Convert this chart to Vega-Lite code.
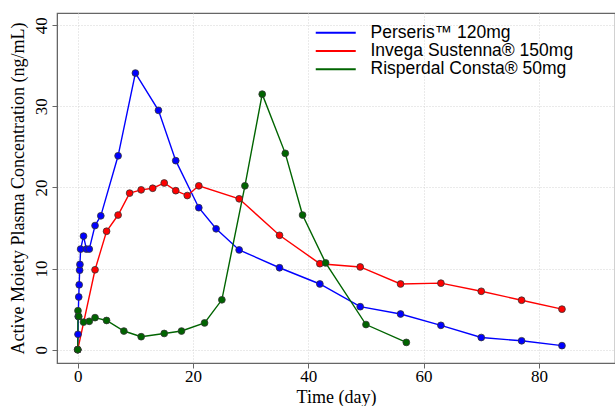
{
  "$schema": "https://vega.github.io/schema/vega-lite/v6.json",
  "width": 558,
  "height": 350,
  "autosize": {"type": "none"},
  "padding": {"left": 57, "top": 13, "right": 0, "bottom": 43},
  "background": "white",
  "config": {
    "view": {"stroke": "#666", "strokeWidth": 1.2},
    "font": "Liberation Serif"
  },
  "data": {
    "values": [
      {"series": "Perseris™ 120mg", "day": 0, "conc": 0},
      {"series": "Perseris™ 120mg", "day": 0.04, "conc": 1.9},
      {"series": "Perseris™ 120mg", "day": 0.08, "conc": 4.1},
      {"series": "Perseris™ 120mg", "day": 0.17, "conc": 6.5},
      {"series": "Perseris™ 120mg", "day": 0.25, "conc": 8.0},
      {"series": "Perseris™ 120mg", "day": 0.33, "conc": 9.8},
      {"series": "Perseris™ 120mg", "day": 0.38, "conc": 10.5},
      {"series": "Perseris™ 120mg", "day": 0.5, "conc": 12.4},
      {"series": "Perseris™ 120mg", "day": 1, "conc": 14.0},
      {"series": "Perseris™ 120mg", "day": 1.5, "conc": 12.4},
      {"series": "Perseris™ 120mg", "day": 2, "conc": 12.4},
      {"series": "Perseris™ 120mg", "day": 3, "conc": 15.3},
      {"series": "Perseris™ 120mg", "day": 4, "conc": 16.5},
      {"series": "Perseris™ 120mg", "day": 7, "conc": 23.9},
      {"series": "Perseris™ 120mg", "day": 10, "conc": 34.1},
      {"series": "Perseris™ 120mg", "day": 14, "conc": 29.5},
      {"series": "Perseris™ 120mg", "day": 17, "conc": 23.3},
      {"series": "Perseris™ 120mg", "day": 21, "conc": 17.5},
      {"series": "Perseris™ 120mg", "day": 24, "conc": 14.9},
      {"series": "Perseris™ 120mg", "day": 28, "conc": 12.3},
      {"series": "Perseris™ 120mg", "day": 35, "conc": 10.1},
      {"series": "Perseris™ 120mg", "day": 42, "conc": 8.1},
      {"series": "Perseris™ 120mg", "day": 49, "conc": 5.3},
      {"series": "Perseris™ 120mg", "day": 56, "conc": 4.4},
      {"series": "Perseris™ 120mg", "day": 63, "conc": 3.0},
      {"series": "Perseris™ 120mg", "day": 70, "conc": 1.5},
      {"series": "Perseris™ 120mg", "day": 77, "conc": 1.1},
      {"series": "Perseris™ 120mg", "day": 84, "conc": 0.5},
      {"series": "Invega Sustenna® 150mg", "day": 0, "conc": 0},
      {"series": "Invega Sustenna® 150mg", "day": 3, "conc": 9.85},
      {"series": "Invega Sustenna® 150mg", "day": 5, "conc": 14.6},
      {"series": "Invega Sustenna® 150mg", "day": 7, "conc": 16.6},
      {"series": "Invega Sustenna® 150mg", "day": 9, "conc": 19.3},
      {"series": "Invega Sustenna® 150mg", "day": 11, "conc": 19.7},
      {"series": "Invega Sustenna® 150mg", "day": 13, "conc": 19.9},
      {"series": "Invega Sustenna® 150mg", "day": 15, "conc": 20.55},
      {"series": "Invega Sustenna® 150mg", "day": 17, "conc": 19.6},
      {"series": "Invega Sustenna® 150mg", "day": 19, "conc": 19.0},
      {"series": "Invega Sustenna® 150mg", "day": 21, "conc": 20.2},
      {"series": "Invega Sustenna® 150mg", "day": 28, "conc": 18.6},
      {"series": "Invega Sustenna® 150mg", "day": 35, "conc": 14.1},
      {"series": "Invega Sustenna® 150mg", "day": 42, "conc": 10.6},
      {"series": "Invega Sustenna® 150mg", "day": 49, "conc": 10.2},
      {"series": "Invega Sustenna® 150mg", "day": 56, "conc": 8.1},
      {"series": "Invega Sustenna® 150mg", "day": 63, "conc": 8.2},
      {"series": "Invega Sustenna® 150mg", "day": 70, "conc": 7.2},
      {"series": "Invega Sustenna® 150mg", "day": 77, "conc": 6.1},
      {"series": "Invega Sustenna® 150mg", "day": 84, "conc": 5.0},
      {"series": "Risperdal Consta® 50mg", "day": 0, "conc": 0},
      {"series": "Risperdal Consta® 50mg", "day": 0.04, "conc": 4.8},
      {"series": "Risperdal Consta® 50mg", "day": 0.17, "conc": 4.1},
      {"series": "Risperdal Consta® 50mg", "day": 1, "conc": 3.4},
      {"series": "Risperdal Consta® 50mg", "day": 2, "conc": 3.5},
      {"series": "Risperdal Consta® 50mg", "day": 3, "conc": 3.95},
      {"series": "Risperdal Consta® 50mg", "day": 5, "conc": 3.6},
      {"series": "Risperdal Consta® 50mg", "day": 8, "conc": 2.3},
      {"series": "Risperdal Consta® 50mg", "day": 11, "conc": 1.6},
      {"series": "Risperdal Consta® 50mg", "day": 15, "conc": 2.0},
      {"series": "Risperdal Consta® 50mg", "day": 18, "conc": 2.3},
      {"series": "Risperdal Consta® 50mg", "day": 22, "conc": 3.3},
      {"series": "Risperdal Consta® 50mg", "day": 25, "conc": 6.15},
      {"series": "Risperdal Consta® 50mg", "day": 29, "conc": 20.2},
      {"series": "Risperdal Consta® 50mg", "day": 32, "conc": 31.5},
      {"series": "Risperdal Consta® 50mg", "day": 36, "conc": 24.2},
      {"series": "Risperdal Consta® 50mg", "day": 39, "conc": 16.6},
      {"series": "Risperdal Consta® 50mg", "day": 43, "conc": 10.7},
      {"series": "Risperdal Consta® 50mg", "day": 50, "conc": 3.1},
      {"series": "Risperdal Consta® 50mg", "day": 57, "conc": 0.9}
    ]
  },
  "encoding": {
    "x": {
      "field": "day",
      "type": "quantitative",
      "scale": {"domain": [-3.6, 93.2], "nice": false, "zero": false},
      "axis": {
        "values": [0, 20, 40, 60, 80],
        "title": "Time (day)",
        "titleFont": "Liberation Serif",
        "titleFontSize": 18,
        "titleFontWeight": "normal",
        "titleColor": "black",
        "titlePadding": 4,
        "labelFont": "Liberation Serif",
        "labelFontSize": 17,
        "labelColor": "black",
        "labelPadding": 0,
        "domainColor": "#666",
        "tickColor": "#666",
        "tickSize": 5,
        "grid": true,
        "gridColor": "#d4d4d4",
        "gridDash": [1, 2]
      }
    },
    "y": {
      "field": "conc",
      "type": "quantitative",
      "scale": {"domain": [-1.64, 41.5], "nice": false, "zero": false},
      "axis": {
        "values": [0, 10, 20, 30, 40],
        "title": "Active Moiety Plasma Concentration (ng/mL)",
        "titleFont": "Liberation Serif",
        "titleFontSize": 18,
        "titleFontWeight": "normal",
        "titleColor": "black",
        "titlePadding": 5,
        "labelFont": "Liberation Serif",
        "labelFontSize": 17,
        "labelColor": "black",
        "labelAngle": -90,
        "labelAlign": "center",
        "labelBaseline": "bottom",
        "labelPadding": 2,
        "domainColor": "#666",
        "tickColor": "#666",
        "tickSize": 5,
        "grid": true,
        "gridColor": "#d4d4d4",
        "gridDash": [1, 2]
      }
    }
  },
  "layer": [
    {
      "mark": {"type": "line", "strokeWidth": 1.4},
      "encoding": {
        "stroke": {
          "field": "series",
          "type": "nominal",
          "sort": null,
          "scale": {
            "domain": ["Perseris™ 120mg", "Invega Sustenna® 150mg", "Risperdal Consta® 50mg"],
            "range": ["#0000FF", "#FF0000", "#006400"]
          },
          "legend": {
            "orient": "none",
            "legendX": 270,
            "legendY": 11,
            "title": null,
            "padding": 0,
            "symbolType": "M-4,0H4",
            "symbolSize": 100,
            "symbolStrokeWidth": 2,
            "labelFont": "Liberation Sans",
            "labelFontSize": 17.5,
            "labelColor": "black",
            "labelOffset": 26,
            "labelLimit": 400,
            "rowPadding": -0.8
          }
        }
      }
    },
    {
      "mark": {"type": "circle", "size": 46, "stroke": "#333", "strokeWidth": 0.8, "opacity": 1},
      "encoding": {
        "fill": {
          "field": "series",
          "type": "nominal",
          "scale": {
            "domain": ["Perseris™ 120mg", "Invega Sustenna® 150mg", "Risperdal Consta® 50mg"],
            "range": ["#0000FF", "#FF0000", "#006400"]
          },
          "legend": null
        }
      }
    }
  ]
}
